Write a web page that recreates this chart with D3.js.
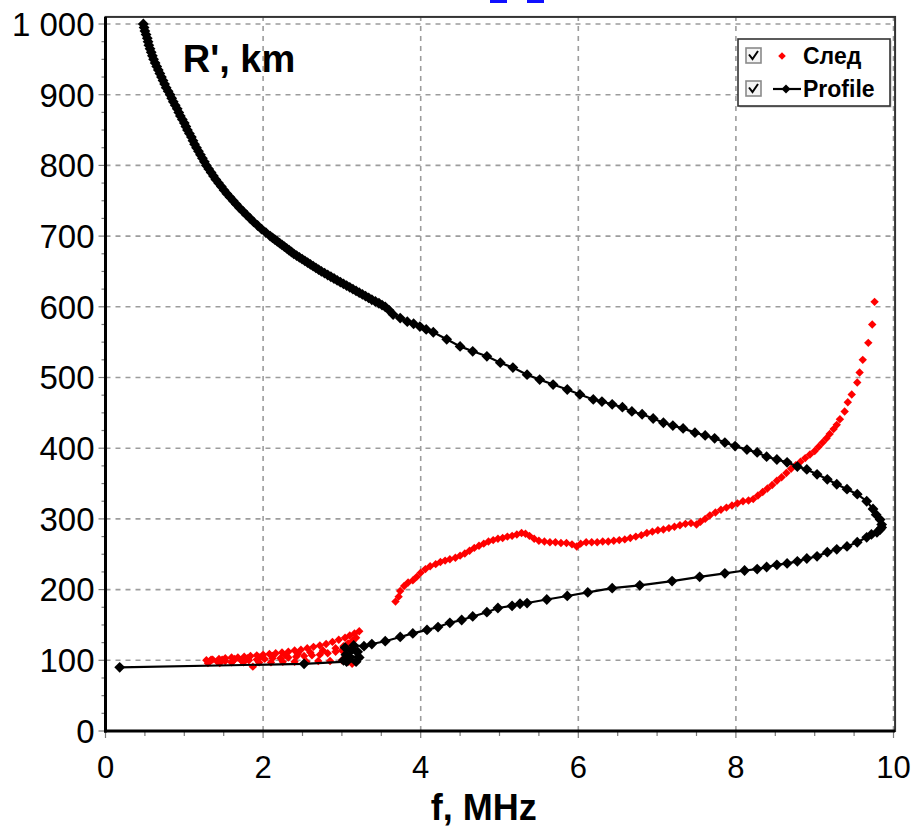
<!DOCTYPE html>
<html>
<head>
<meta charset="utf-8">
<script src="https://cdn.jsdelivr.net/npm/d3@7"></script>
<style>
  body { margin: 0; background: #fff; }
  svg { display: block; }
</style>
</head>
<body>
<svg id="chart" width="914" height="829"></svg>
<script>
// Axis ticks and labels
const fTickValues = [0, 2, 4, 6, 8, 10];
const rTickValues = [0, 100, 200, 300, 400, 500, 600, 700, 800, 900, 1000];
const rTickLabels = ["0", "100", "200", "300", "400", "500", "600", "700", "800", "900", "1 000"];
const legendLabels = ["След", "Profile"];

// Profile: virtual height R' (km) against frequency f (MHz), bottom to top
const profileF = [
  0.18, 2.52, 3.06, 3.02, 3.18, 3.10, 3.05, 3.22, 3.12, 3.04,
  3.20, 3.15, 3.28,
  3.38, 3.55, 3.74, 3.90, 4.08, 4.22, 4.37, 4.52, 4.66, 4.84,
  4.98, 5.16, 5.26, 5.35, 5.60, 5.86, 6.12, 6.43, 6.78, 7.19,
  7.54, 7.86, 8.11, 8.27, 8.39, 8.52, 8.65, 8.78, 8.90, 9.03,
  9.16, 9.28, 9.41, 9.54, 9.66, 9.72, 9.79, 9.83, 9.85, 9.85,
  9.83, 9.78, 9.74, 9.66, 9.54, 9.41, 9.28, 9.16, 9.03, 8.90,
  8.78, 8.65, 8.52, 8.39, 8.27, 8.14, 7.99, 7.86, 7.73, 7.61,
  7.48, 7.33, 7.20, 7.08, 6.95, 6.81, 6.68, 6.56, 6.43, 6.30,
  6.19, 6.02, 5.86, 5.68, 5.51, 5.35, 5.17, 5.01, 4.84, 4.66,
  4.50, 4.33, 4.16, 4.07, 3.99, 3.91, 3.83, 3.74, 3.65, 3.60,
  3.55, 3.51, 3.47, 3.425, 3.38, 3.34, 3.30, 3.26, 3.22, 3.18,
  3.14, 3.10, 3.06, 3.02, 2.98, 2.94, 2.90, 2.86, 2.82, 2.78,
  2.74, 2.705, 2.67, 2.635, 2.60, 2.565, 2.53, 2.495, 2.46, 2.425,
  2.39, 2.36, 2.33, 2.30, 2.27, 2.24, 2.21, 2.18, 2.15, 2.12,
  2.09, 2.035, 1.98, 1.93,
  1.88, 1.835, 1.79, 1.745, 1.70, 1.66, 1.62, 1.58, 1.54, 1.505,
  1.47, 1.435, 1.40, 1.37, 1.34, 1.31, 1.28, 1.255, 1.23, 1.205,
  1.18, 1.155, 1.13, 1.11, 1.09, 1.065, 1.04, 1.02, 1.00, 0.975,
  0.95, 0.93, 0.91, 0.885, 0.86, 0.84, 0.82, 0.795, 0.77, 0.75,
  0.73, 0.71, 0.69, 0.67, 0.65, 0.63, 0.61, 0.595, 0.58, 0.565,
  0.55, 0.54, 0.53, 0.515, 0.50, 0.49, 0.48
];
const profileR = [
  90, 95, 98, 100, 98, 104, 108, 104, 114, 118,
  112, 121, 120,
  123, 127, 133, 138, 143, 147, 153, 157, 162, 168,
  174, 177, 180, 181, 186, 191, 196, 202, 206, 212,
  218, 223, 227, 229, 232, 235, 237, 240, 244, 247,
  253, 257, 261, 267, 274, 278, 281, 285, 288, 292,
  299, 306, 314, 325, 335, 342, 349, 356, 363, 370,
  374, 380, 384, 388, 394, 398, 403, 408, 414, 418,
  422, 428, 432, 436, 442, 448, 452, 458, 462, 466,
  469, 476, 483, 490, 497, 504, 514, 521, 530, 537,
  544, 554, 564, 568, 572, 576, 579, 584, 589, 595,
  600, 602.5, 605, 607.5, 610, 612.5, 615, 617.5, 620, 622.5,
  625, 627.5, 630, 632.5, 635, 637.5, 640, 642.5, 645, 647.5,
  650, 652.5, 655, 657.5, 660, 662.5, 665, 667.5, 670, 672.5,
  675, 677.5, 680, 682.5, 685, 687.5, 690, 692.5, 695, 697.5,
  700, 705, 710, 715,
  720, 725, 730, 735, 740, 745, 750, 755, 760, 765,
  770, 775, 780, 785, 790, 795, 800, 805, 810, 815,
  820, 825, 830, 835, 840, 845, 850, 855, 860, 865,
  870, 875, 880, 885, 890, 895, 900, 905, 910, 915,
  920, 925, 930, 935, 940, 945, 950, 955, 960, 965,
  970, 975, 980, 985, 990, 995, 1000
];

// След: measured trace points
const sledF = [
  1.28, 1.36, 1.44, 1.52, 1.60, 1.68, 1.76, 1.84, 1.92, 2.00,
  2.08, 2.16, 2.24, 2.32, 2.40, 2.48, 2.56, 2.64, 2.72, 2.80,
  2.88, 2.96, 3.04, 3.10, 3.16, 3.22,
  1.32, 1.42, 1.52, 1.62, 1.72, 1.82, 1.92, 2.02, 2.12, 2.22,
  2.32, 2.42, 2.52, 2.62, 2.72, 2.82, 2.92, 3.00, 3.06, 3.12,
  1.30, 1.45, 1.60, 1.75, 1.87, 1.95, 2.10, 2.25, 2.40, 2.55,
  2.70, 2.85, 3.00, 3.08, 3.13,
  1.34, 1.48, 1.64, 1.80, 1.96, 2.12, 2.28, 2.44, 2.60, 2.76,
  2.92, 3.02, 3.08, 3.14, 3.18,
  3.68, 3.72, 3.74, 3.79, 3.84, 3.90, 3.95, 4.00, 4.06, 4.12,
  4.19, 4.25, 4.31, 4.37, 4.44, 4.50, 4.56, 4.62, 4.68, 4.74,
  4.80, 4.86, 4.92, 4.98, 5.04, 5.10, 5.16, 5.22, 5.28, 5.33,
  5.38, 5.44, 5.50, 5.57, 5.64, 5.71, 5.78, 5.85, 5.92, 5.98,
  6.03, 6.10, 6.17, 6.24, 6.31, 6.38, 6.45, 6.52, 6.59, 6.66,
  6.73, 6.80, 6.87, 6.94, 7.01, 7.08, 7.15, 7.22, 7.29, 7.36,
  7.43, 7.50, 7.55, 7.61, 7.67, 7.74, 7.81, 7.88, 7.95, 8.02,
  8.09, 8.16, 8.22, 8.28, 8.34, 8.40, 8.46, 8.52, 8.58, 8.64,
  8.70, 8.76, 8.82, 8.88, 8.94, 9.00, 9.05, 9.10, 9.15, 9.19,
  9.24, 9.28, 9.32, 9.38, 9.42, 9.47, 9.54, 9.57, 9.61, 9.68,
  9.73, 9.76
];
const sledR = [
  100, 101, 102, 103, 104, 104, 105, 106, 107, 108,
  109, 110, 111, 112, 114, 115, 117, 119, 121, 123,
  126, 129, 132, 135, 138, 141,
  98, 98, 99, 99, 100, 100, 101, 102, 103, 103,
  104, 105, 106, 107, 108, 110, 112, 114, 118, 123,
  96, 96, 97, 97, 91, 97, 97, 98, 98, 98,
  99, 99, 100, 98, 95,
  101, 101, 102, 103, 104, 106, 107, 109, 111, 114,
  117, 120, 124, 128, 132,
  183, 190, 198, 205, 210, 213, 218, 224, 229, 233,
  236, 239, 241, 243, 245, 248, 251, 255, 259, 262,
  265, 268, 270, 272, 273, 275, 276, 278, 280, 279,
  276, 272, 269, 268, 267, 267, 266, 266, 264, 261,
  265, 267, 267, 267, 268, 268, 269, 270, 271, 273,
  275, 277, 280, 282, 284, 285, 287, 289, 291, 293,
  294, 292, 296, 300, 305, 309, 313, 316, 319, 322,
  325, 326, 328, 333, 338, 343, 348, 354, 359, 365,
  371, 376, 381, 386, 391, 396, 402, 408, 414, 420,
  427, 433, 441, 452, 465, 476, 493, 507, 525, 549,
  575, 607
];

const svg = d3.select("#chart");
const W = 914, H = 829;
svg.append("rect").attr("width", W).attr("height", H).attr("fill", "#fff");

const x = d3.scaleLinear().domain([0, 10]).range([105.5, 893.5]);
const y = d3.scaleLinear().domain([0, 1000]).range([731, 24]);
const fMax = 10.02, rMax = 1010;

const fontFamily = "'Liberation Sans', Arial, sans-serif";

// Fragment of a link underline peeking in above the plot
const topLink = svg.append("g").attr("fill", "#1010ff");
topLink.append("rect").attr("x", 490).attr("y", 0).attr("width", 17).attr("height", 3);
topLink.append("rect").attr("x", 527).attr("y", 0).attr("width", 17).attr("height", 3);

// Dashed grid
const grid = svg.append("g")
  .attr("stroke", "#9c9c9c").attr("stroke-width", 1.6)
  .attr("stroke-dasharray", "5,5");
grid.selectAll("line.h").data(rTickValues.filter(d => d > 0)).join("line")
  .attr("x1", x(0)).attr("x2", x(fMax))
  .attr("y1", d => y(d)).attr("y2", d => y(d));
grid.selectAll("line.v").data(fTickValues.filter(d => d > 0)).join("line")
  .attr("y1", y(0)).attr("y2", y(rMax))
  .attr("x1", d => x(d)).attr("x2", d => x(d));

// Minor and major ticks
const minorF = d3.range(0, 10.01, 0.5);
const minorR = d3.range(0, 1000.1, 25);
const tickG = svg.append("g").attr("stroke", "#7a7a7a").attr("stroke-width", 1.2);
tickG.selectAll("line.mx").data(minorF).join("line")
  .attr("x1", d => x(d)).attr("x2", d => x(d))
  .attr("y1", y(0)).attr("y2", d => y(0) + (fTickValues.includes(d) ? 7 : 5));
tickG.selectAll("line.my").data(minorR).join("line")
  .attr("y1", d => y(d)).attr("y2", d => y(d))
  .attr("x1", x(0)).attr("x2", d => x(0) - (rTickValues.includes(d) ? 7 : 4));

// Plot frame
svg.append("rect")
  .attr("x", x(0)).attr("y", y(rMax))
  .attr("width", x(fMax) - x(0)).attr("height", y(0) - y(rMax))
  .attr("fill", "none").attr("stroke", "#333").attr("stroke-width", 2);
svg.append("line").attr("x1", x(0)).attr("x2", x(0)).attr("y1", y(rMax)).attr("y2", y(0) + 1.5)
  .attr("stroke", "#000").attr("stroke-width", 3);
svg.append("line").attr("x1", x(0) - 1.5).attr("x2", x(fMax)).attr("y1", y(0)).attr("y2", y(0))
  .attr("stroke", "#000").attr("stroke-width", 3);

// Tick labels
svg.append("g").selectAll("text").data(rTickValues).join("text")
  .attr("x", x(0) - 11).attr("y", d => y(d))
  .attr("dy", "0.36em")
  .attr("text-anchor", "end")
  .attr("font-family", fontFamily).attr("font-size", 33)
  .attr("fill", "#000")
  .text((d, i) => rTickLabels[i]);
svg.append("g").selectAll("text").data(fTickValues).join("text")
  .attr("x", d => x(d)).attr("y", y(0) + 47)
  .attr("text-anchor", "middle")
  .attr("font-family", fontFamily).attr("font-size", 31)
  .attr("fill", "#000")
  .text(d => d);

// Axis titles
svg.append("text")
  .attr("x", x(4.8)).attr("y", 820)
  .attr("text-anchor", "middle")
  .attr("font-family", fontFamily).attr("font-size", 36).attr("font-weight", "bold")
  .text("f, MHz");
svg.append("text")
  .attr("x", x(0.98)).attr("y", 72)
  .attr("font-family", fontFamily).attr("font-size", 38).attr("font-weight", "bold")
  .text("R', km");

// Square diamond marker path
const diamond = r => `M0,${-r}L${r},0L0,${r}L${-r},0Z`;

// След points
const sledData = sledF.map((f, i) => ({ f, r: sledR[i] }));
svg.append("g").selectAll("path").data(sledData).join("path")
  .attr("transform", d => `translate(${x(d.f)},${y(d.r)})`)
  .attr("d", diamond(4.2))
  .attr("fill", "#ff0000");

// Profile line with diamond markers
const profileData = profileF.map((f, i) => ({ f, r: profileR[i] }));
svg.append("path").datum(profileData)
  .attr("fill", "none").attr("stroke", "#000").attr("stroke-width", 2.2)
  .attr("d", d3.line().x(d => x(d.f)).y(d => y(d.r)));
svg.append("g").selectAll("path").data(profileData).join("path")
  .attr("transform", d => `translate(${x(d.f)},${y(d.r)})`)
  .attr("d", diamond(5.4))
  .attr("fill", "#000");

// Legend
const lg = svg.append("g").attr("transform", "translate(738,39)");
lg.append("rect").attr("x", 1.5).attr("y", 1.5).attr("width", 152).attr("height", 67)
  .attr("fill", "#bbb");
lg.append("rect").attr("width", 152).attr("height", 67)
  .attr("fill", "#fff").attr("stroke", "#333").attr("stroke-width", 1.6);
const rows = lg.selectAll("g.row").data(legendLabels).join("g")
  .attr("transform", (d, i) => `translate(0,${17 + i * 33})`);
rows.append("rect").attr("x", 8).attr("y", -8).attr("width", 15).attr("height", 15)
  .attr("fill", "#f4f4f4").attr("stroke", "#8a8a8a").attr("stroke-width", 1.6);
rows.append("path").attr("d", "M11,-1.5L14.5,3L20,-5")
  .attr("fill", "none").attr("stroke", "#000").attr("stroke-width", 2);
rows.filter((d, i) => i === 0).append("path")
  .attr("transform", "translate(44,0)").attr("d", diamond(3.8)).attr("fill", "#ff0000");
const r2 = rows.filter((d, i) => i === 1);
r2.append("line").attr("x1", 35).attr("x2", 63).attr("y1", 0).attr("y2", 0)
  .attr("stroke", "#000").attr("stroke-width", 2.2);
r2.append("path").attr("transform", "translate(48,0)").attr("d", diamond(4.5)).attr("fill", "#000");
rows.append("text").attr("x", 65).attr("y", 8)
  .attr("font-family", fontFamily).attr("font-size", 23).attr("font-weight", "bold")
  .text(d => d);
</script>
</body>
</html>
